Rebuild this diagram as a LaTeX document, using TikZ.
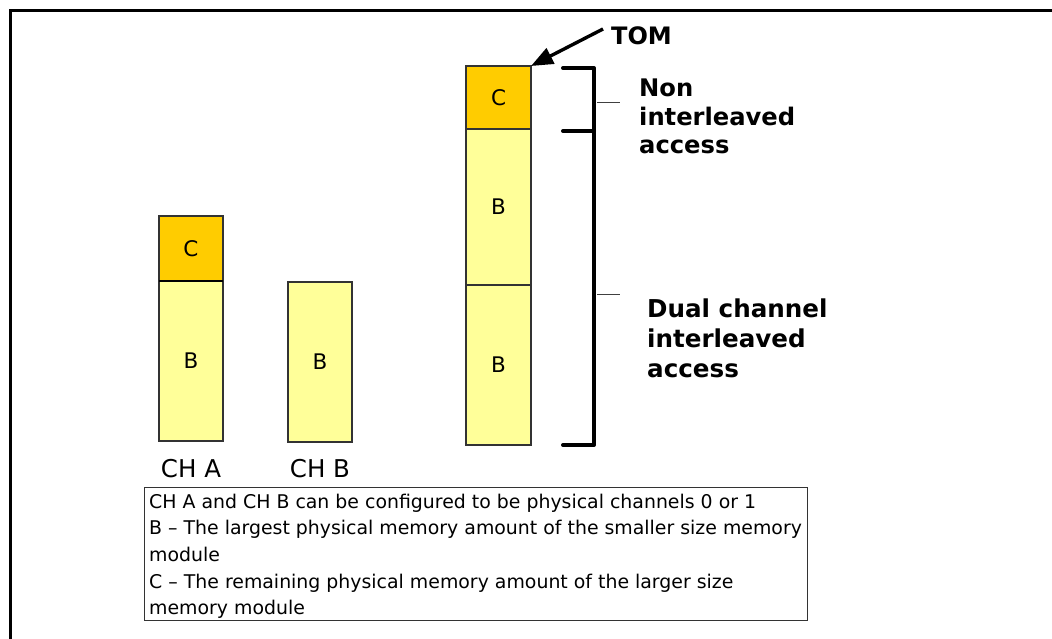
\documentclass[tikz,border=0pt]{standalone}
\usepackage{fontspec}
\setmainfont{DejaVu Sans}
\usetikzlibrary{arrows.meta}
\definecolor{memC}{HTML}{FFCC00}
\definecolor{memB}{HTML}{FFFF99}
\definecolor{edge}{HTML}{333333}
\begin{document}
\begin{tikzpicture}[x=1pt,y=-1pt,
  blk/.style={draw=edge, line width=1.2pt, inner sep=0pt, outer sep=0pt, anchor=north west,
    font=\fontsize{21.5}{24}\selectfont},
  blkC/.style={blk, fill=memC},
  blkB/.style={blk, fill=memB},
  frameline/.style={line width=2.6pt, black},
  bracketline/.style={line width=4pt, black, line cap=round, line join=round},
  tickline/.style={line width=0.9pt, black!75},
  tomarrow/.style={line width=3.4pt, -{Triangle[length=22pt,width=17pt]}},
  boldlbl/.style={inner sep=0pt, align=left, anchor=base west},
  chlbl/.style={inner sep=0pt, anchor=base, font=\fontsize{24.5}{28}\selectfont},
  legendbox/.style={draw=edge, line width=1.2pt, inner sep=0pt, anchor=north west}]
\useasboundingbox (0,0) rectangle (1052,639);
% frame (top and left edges)
\coordinate (frBL) at (10.5,639);
\coordinate (frTL) at (10.5,10.3);
\coordinate (frTR) at (1052,10.3);
\draw[frameline] (frBL) -- (frTL) -- (frTR);
% CH A
\node[blkC, minimum width=64pt, minimum height=65pt] (aC) at (159,216) {C};
\node[blkB, minimum width=64pt, minimum height=160pt] (aB) at (159,281) {B};
\draw[line width=1.6pt, black] (aB.north west) -- (aB.north east);
% CH B
\node[blkB, minimum width=64pt, minimum height=160pt] (bB) at (288,282) {B};
% combined stack
\node[blkC, minimum width=65pt, minimum height=63pt] (sC) at (466,66) {C};
\node[blkB, minimum width=65pt, minimum height=156pt] (sB1) at (466,129) {B};
\node[blkB, minimum width=65pt, minimum height=160pt] (sB2) at (466,285) {B};
% channel labels
\node[chlbl] (chA) at (191,477) {CH A};
\node[chlbl] (chB) at (320,477) {CH B};
% bracket
\coordinate (brT0) at (563,68);
\coordinate (brT1) at (594,68);
\coordinate (brM0) at (563,131);
\coordinate (brM1) at (594,131);
\coordinate (brB0) at (563,445);
\coordinate (brB1) at (594,445);
\draw[bracketline] (brT0) -- (brT1) -- (brB1) -- (brB0);
\draw[bracketline] (brM0) -- (brM1);
\coordinate (tk1a) at (597,102);
\coordinate (tk1b) at (620,102);
\coordinate (tk2a) at (597,294);
\coordinate (tk2b) at (620,294);
\draw[tickline] (tk1a) -- (tk1b);
\draw[tickline] (tk2a) -- (tk2b);
% TOM
\node[inner sep=0pt, anchor=base west, font=\fontsize{24}{28}\selectfont\bfseries] (tom) at (611,45) {TOM};
\coordinate (tomtail) at (603,29);
\draw[tomarrow] (tomtail) -- (sC.north east);
% bracket labels (base = last line)
\node[boldlbl, font=\fontsize{24.2}{28.6}\selectfont\bfseries] (nonint) at (639,154) {Non\\interleaved\\access};
\node[boldlbl, font=\fontsize{24.6}{30}\selectfont\bfseries] (dual) at (647,377) {Dual channel\\interleaved\\access};
% legend
\node[legendbox, minimum width=663pt, minimum height=133pt] (legend) at (144,487) {};
\node[inner sep=0pt, anchor=base west, align=left, font=\fontsize{18.9}{26.7}\selectfont] (legtext) at (149,614.8)
  {CH A and CH B can be configured to be physical channels 0 or 1\\
   B – The largest physical memory amount of the smaller size memory\\
   module\\
   C – The remaining physical memory amount of the larger size\\
   memory module};
\end{tikzpicture}
\end{document}
